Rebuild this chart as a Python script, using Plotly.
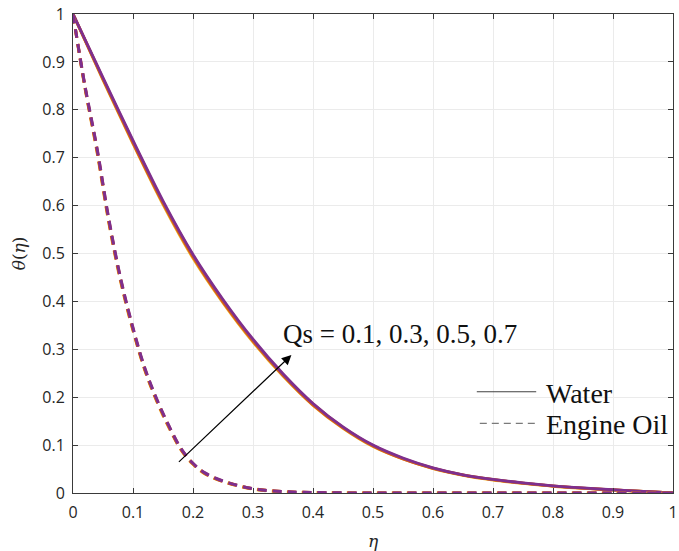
import plotly.graph_objects as go

eta_w = [0, 0.05, 0.1, 0.15, 0.2, 0.25, 0.3, 0.35, 0.4, 0.45, 0.5, 0.55, 0.6, 0.65, 0.7, 0.75, 0.8, 0.85, 0.9, 0.95, 1.0]
water_q1 = [1, 0.862, 0.729, 0.602, 0.490, 0.397, 0.315, 0.244, 0.183, 0.135, 0.097, 0.071, 0.051, 0.037, 0.027, 0.020, 0.014, 0.0098, 0.0063, 0.0032, 0]
water_q3 = [1, 0.864, 0.731, 0.605, 0.493, 0.399, 0.317, 0.246, 0.184, 0.136, 0.098, 0.071, 0.0515, 0.0375, 0.0278, 0.0205, 0.0145, 0.010, 0.0065, 0.0033, 0]
water_q5 = [1, 0.865, 0.734, 0.607, 0.496, 0.402, 0.319, 0.247, 0.186, 0.137, 0.099, 0.072, 0.052, 0.0378, 0.0282, 0.0208, 0.0148, 0.0102, 0.0066, 0.0034, 0]
water_q7 = [1, 0.867, 0.736, 0.610, 0.498, 0.404, 0.321, 0.249, 0.187, 0.138, 0.100, 0.073, 0.0525, 0.038, 0.0285, 0.021, 0.015, 0.0105, 0.0068, 0.0035, 0]

eta_o = [0, 0.02, 0.04, 0.06, 0.08, 0.1, 0.12, 0.14, 0.16, 0.18, 0.2, 0.22, 0.25, 0.3, 0.35, 0.4, 0.5, 0.6, 0.7, 0.8, 0.9, 1.0]
oil_q1 = [1, 0.845, 0.712, 0.562, 0.438, 0.339, 0.255, 0.190, 0.136, 0.090, 0.060, 0.040, 0.024, 0.008, 0.002, 0.001, 0, 0, 0, 0, 0, 0]
oil_q3 = [1, 0.847, 0.715, 0.565, 0.441, 0.341, 0.257, 0.192, 0.138, 0.091, 0.061, 0.041, 0.024, 0.009, 0.003, 0.001, 0, 0, 0, 0, 0, 0]
oil_q5 = [1, 0.848, 0.718, 0.568, 0.443, 0.343, 0.258, 0.193, 0.139, 0.092, 0.061, 0.041, 0.025, 0.009, 0.003, 0.001, 0, 0, 0, 0, 0, 0]
oil_q7 = [1, 0.850, 0.720, 0.570, 0.445, 0.345, 0.260, 0.195, 0.140, 0.093, 0.062, 0.042, 0.025, 0.009, 0.003, 0.001, 0, 0, 0, 0, 0, 0]

qs_labels = ["0.1", "0.3", "0.5", "0.7"]
colors = ["#EDB120", "#D95319", "#C8602A", "#7E2F8E"]
ticks = [0, 0.1, 0.2, 0.3, 0.4, 0.5, 0.6, 0.7, 0.8, 0.9, 1]
tick_text = ["0", "0.1", "0.2", "0.3", "0.4", "0.5", "0.6", "0.7", "0.8", "0.9", "1"]
legend_names = ["Water", "Engine Oil"]

fig = go.Figure()
for ys, c, q in zip([water_q1, water_q3, water_q5, water_q7], colors, qs_labels):
    fig.add_trace(go.Scatter(x=eta_w, y=ys, mode="lines", line=dict(color=c, width=2.8, shape="spline", smoothing=0.8),
                             showlegend=False, name="Water Qs=" + q))
for ys, c, q in zip([oil_q1, oil_q3, oil_q5, oil_q7], colors, qs_labels):
    fig.add_trace(go.Scatter(x=eta_o, y=ys, mode="lines", line=dict(color=c, width=3, dash="9px,6px", shape="spline"),
                             showlegend=False, name="Engine Oil Qs=" + q))

axis_common = dict(range=[0, 1], tickvals=ticks, ticktext=tick_text, showgrid=True, gridcolor="#EBEBEB",
                   gridwidth=1, zeroline=False, showline=True, linecolor="#3a3a3a", linewidth=1,
                   mirror="ticks", ticks="inside", ticklen=5, tickcolor="#3a3a3a",
                   tickfont=dict(family="Open Sans, sans-serif", size=16, color="#262626"))

fig.update_layout(
    width=679, height=551,
    margin=dict(l=73, r=1, t=14, b=58),
    paper_bgcolor="white", plot_bgcolor="white",
    xaxis=dict(axis_common, ticklabelstandoff=5, ticklabeloverflow="allow",
               title=dict(text="<i>η</i>", font=dict(family="DejaVu Serif, serif", size=17, color="#262626"), standoff=14)),
    yaxis=dict(axis_common, ticklabelstandoff=4,
               title=dict(text="<i>θ</i>(<i>η</i>)", font=dict(family="DejaVu Serif, serif", size=17, color="#262626"), standoff=12)),
    showlegend=False,
)

# manual legend (paper coordinates)
fig.add_shape(type="line", xref="paper", yref="paper", x0=0.673, x1=0.772, y0=0.2115, y1=0.2115,
              line=dict(color="#404040", width=1.1))
fig.add_shape(type="line", xref="paper", yref="paper", x0=0.678, x1=0.772, y0=0.1455, y1=0.1455,
              line=dict(color="#7a7a7a", width=1.3, dash="7px,5px"))
for name, yy in zip(legend_names, [0.2077, 0.142]):
    fig.add_annotation(x=0.785, y=yy, xref="paper", yref="paper", showarrow=False, xanchor="left", yanchor="middle",
                       text=name, font=dict(family="Liberation Serif, serif", size=28, color="#111111"))

fig.add_annotation(x=0.364, y=0.288, ax=0.174, ay=0.062, xref="x", yref="y", axref="x", ayref="y",
                   showarrow=True, arrowhead=2, arrowsize=1.6, arrowwidth=1.2, arrowcolor="black", text="")
fig.add_annotation(x=0.347, y=0.332, xref="x", yref="y", showarrow=False, xanchor="left", yanchor="middle",
                   text="Qs = 0.1, 0.3, 0.5, 0.7",
                   font=dict(family="Liberation Serif, serif", size=27, color="#111111"))

fig.write_html("out.html")
